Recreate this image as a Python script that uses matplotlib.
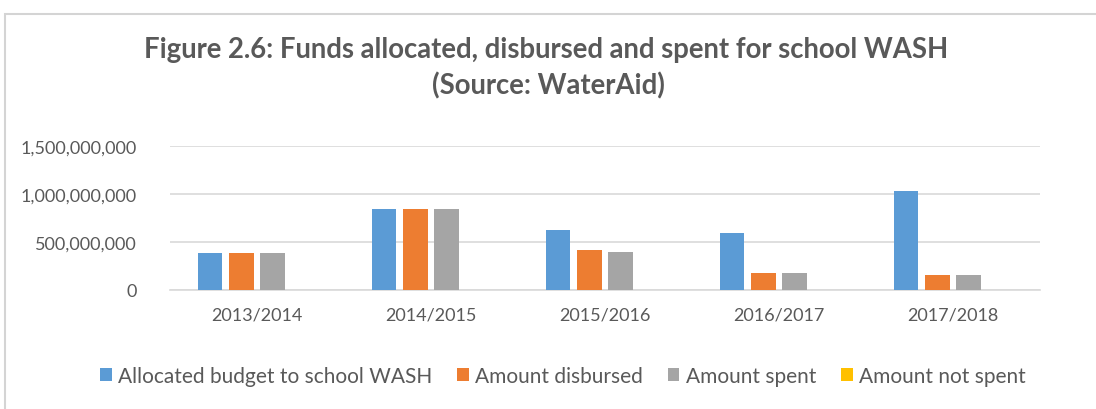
import numpy as np
import matplotlib
matplotlib.use("Agg")
import matplotlib.pyplot as plt
from matplotlib.patches import Rectangle
from matplotlib.ticker import FuncFormatter

YEARS = ["2013/2014", "2014/2015", "2015/2016", "2016/2017", "2017/2018"]
ALLOCATED  = [385e6, 840e6, 620e6, 595e6, 1030e6]
DISBURSED  = [385e6, 840e6, 420e6, 175e6, 160e6]
SPENT      = [385e6, 840e6, 400e6, 175e6, 160e6]
NOT_SPENT  = [0, 0, 0, 0, 0]

SERIES = [
    ("Allocated budget to school WASH", ALLOCATED, "#5B9BD5"),
    ("Amount disbursed",                DISBURSED, "#ED7D31"),
    ("Amount spent",                    SPENT,     "#A5A5A5"),
    ("Amount not spent",                NOT_SPENT, "#FFC000"),
]

TEXT_GREY = "#595959"
plt.rcParams["font.family"] = ["Lato", "DejaVu Sans"]

fig = plt.figure(figsize=(10.96, 4.10), dpi=100)
fig.patch.set_facecolor("white")

# light frame round the chart area
fig.add_artist(Rectangle((5 / 1096, -0.2), 1.2, 1.2 - 15 / 410,
                         transform=fig.transFigure, fill=False,
                         edgecolor="#d4d4d4", lw=1.5, clip_on=False))

ax = fig.add_axes([170 / 1096, 1 - 291 / 410, 870 / 1096, 144 / 410])

x = np.arange(len(YEARS))
width = 0.14
step = 0.18
for i, (label, vals, col) in enumerate(SERIES):
    ax.bar(x + (i - 1.5) * step, vals, width, color=col, label=label, zorder=3)

ax.set_xlim(-0.5, len(YEARS) - 0.5)
ax.set_ylim(0, 1.5e9)
ax.set_yticks([0, 5e8, 1e9, 1.5e9])
ax.yaxis.set_major_formatter(FuncFormatter(lambda v, p: f"{v:,.0f}"))
ax.set_xticks(x)
ax.set_xticklabels(YEARS)
ax.tick_params(axis="both", length=0, labelsize=13, colors=TEXT_GREY)
ax.tick_params(axis="y", pad=24)
ax.tick_params(axis="x", pad=12)
ax.grid(axis="y", color="#d9d9d9", lw=1.2, zorder=0)
for s in ["top", "right", "left"]:
    ax.spines[s].set_visible(False)
ax.spines["bottom"].set_color("#d9d9d9")
ax.spines["bottom"].set_linewidth(1.2)

fig.text(0.498, 1 - 50 / 410, "Figure 2.6: Funds allocated, disbursed and spent for school WASH",
         ha="center", va="center", fontsize=19.8, fontweight="bold", color=TEXT_GREY)
fig.text(0.5, 1 - 86 / 410, "(Source: WaterAid)",
         ha="center", va="center", fontsize=19.8, fontweight="bold", color=TEXT_GREY)

handles, labels = ax.get_legend_handles_labels()
fig.legend(handles, labels, loc="center", bbox_to_anchor=(563 / 1096, 1 - 377 / 410),
           ncol=4, frameon=False, fontsize=15, handlelength=0.55, handleheight=0.55,
           handletextpad=0.3, columnspacing=1.2, labelcolor=TEXT_GREY)

fig.savefig("out.png", dpi=100)
